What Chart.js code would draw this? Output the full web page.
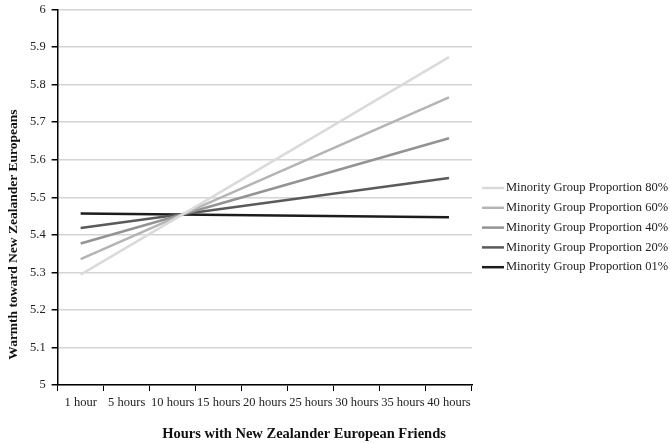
<!DOCTYPE html>
<html>
<head>
<meta charset="utf-8">
<script src="https://cdn.jsdelivr.net/npm/chart.js@4.4.1/dist/chart.umd.min.js"></script>
<style>
  body { margin: 0; background: #fff; overflow: hidden; }
  #outer { width: 670px; height: 444px; overflow: hidden; position: relative; }
  #wrap { width: 670px; height: 448px; position: absolute; top: -4px; left: 0; }
</style>
</head>
<body>
<div id="outer"><div id="wrap"><canvas id="myChart"></canvas></div></div>
<script>
// categories on the x axis
var hours = ["1 hour", "5 hours", "10 hours", "15 hours", "20 hours", "25 hours", "30 hours", "35 hours", "40 hours"];

// predicted warmth, read at 1 hour and 40 hours (lines are straight)
var prop80 = [5.294, null, null, null, null, null, null, null, 5.873];
var prop60 = [5.335, null, null, null, null, null, null, null, 5.766];
var prop40 = [5.377, null, null, null, null, null, null, null, 5.657];
var prop20 = [5.418, null, null, null, null, null, null, null, 5.551];
var prop01 = [5.457, null, null, null, null, null, null, null, 5.447];

var seriesNames = [
    "Minority Group Proportion 80%",
    "Minority Group Proportion 60%",
    "Minority Group Proportion 40%",
    "Minority Group Proportion 20%",
    "Minority Group Proportion 01%"
];
var seriesColors = ["#dadada", "#b4b4b4", "#939393", "#5a5a5a", "#1c1c1c"];
var seriesData = [prop80, prop60, prop40, prop20, prop01];

var xTitle = "Hours with New Zealander European Friends";
var yTitle = "Warmth toward New Zealander Europeans";

var serif = "'Liberation Serif', 'Times New Roman', serif";

var datasets = seriesData.map(function (d, i) {
    return {
        label: seriesNames[i],
        data: d,
        borderColor: seriesColors[i],
        backgroundColor: seriesColors[i],
        borderWidth: 2.5,
        pointRadius: 0,
        spanGaps: true,
        tension: 0
    };
});

// legend + axis titles drawn by hand: the built-in legend is capped at a
// quarter of the width and the titles sit off-centre in the original
var extras = {
    id: 'extras',
    afterDraw: function (chart) {
        var c = chart.ctx;
        var x0 = chart.chartArea.right + 10;
        var y0 = 192;
        c.save();
        c.font = "12.5px " + serif;
        c.textBaseline = 'middle';
        c.textAlign = 'left';
        chart.data.datasets.forEach(function (ds, i) {
            var y = y0 + i * 19.8;
            c.strokeStyle = ds.borderColor;
            c.lineWidth = 2.5;
            c.beginPath();
            c.moveTo(x0, y);
            c.lineTo(x0 + 22, y);
            c.stroke();
            c.fillStyle = '#222';
            c.fillText(ds.label, x0 + 24, y);
        });

        c.fillStyle = '#111';
        c.font = "bold 14.5px " + serif;
        c.textAlign = 'center';
        c.fillText(xTitle, 304, 438);

        c.font = "bold 13.5px " + serif;
        c.translate(13.5, 238.5);
        c.rotate(-Math.PI / 2);
        c.fillText(yTitle, 0, 0);
        c.restore();
    }
};

var ctx = document.getElementById("myChart");
var myLineChart = new Chart(ctx, {
    type: 'line',
    data: { labels: hours, datasets: datasets },
    plugins: [extras],
    options: {
        responsive: true,
        maintainAspectRatio: false,
        animation: false,
        layout: { padding: { top: 0, left: 24, right: 198, bottom: 30 } },
        plugins: {
            tooltip: { enabled: false },
            legend: { display: false }
        },
        scales: {
            x: {
                offset: true,
                grid: { offset: true, drawOnChartArea: false, tickColor: '#000', tickLength: 6 },
                border: { color: '#000', width: 1.5 },
                ticks: {
                    autoSkip: false, maxRotation: 0, minRotation: 0,
                    padding: 4, color: '#222',
                    font: { family: serif, size: 12.5 }
                }
            },
            y: {
                min: 5,
                max: 6,
                ticks: {
                    stepSize: 0.1,
                    padding: 6, color: '#222',
                    font: { family: serif, size: 12.5 },
                    callback: function (v) { return String(Number(v.toFixed(1))); }
                },
                grid: { color: '#d4d4d4', lineWidth: 1.5, tickColor: '#000', tickLength: 6 },
                border: { color: '#000', width: 1.5 }
            }
        }
    }
});
</script>
</body>
</html>
